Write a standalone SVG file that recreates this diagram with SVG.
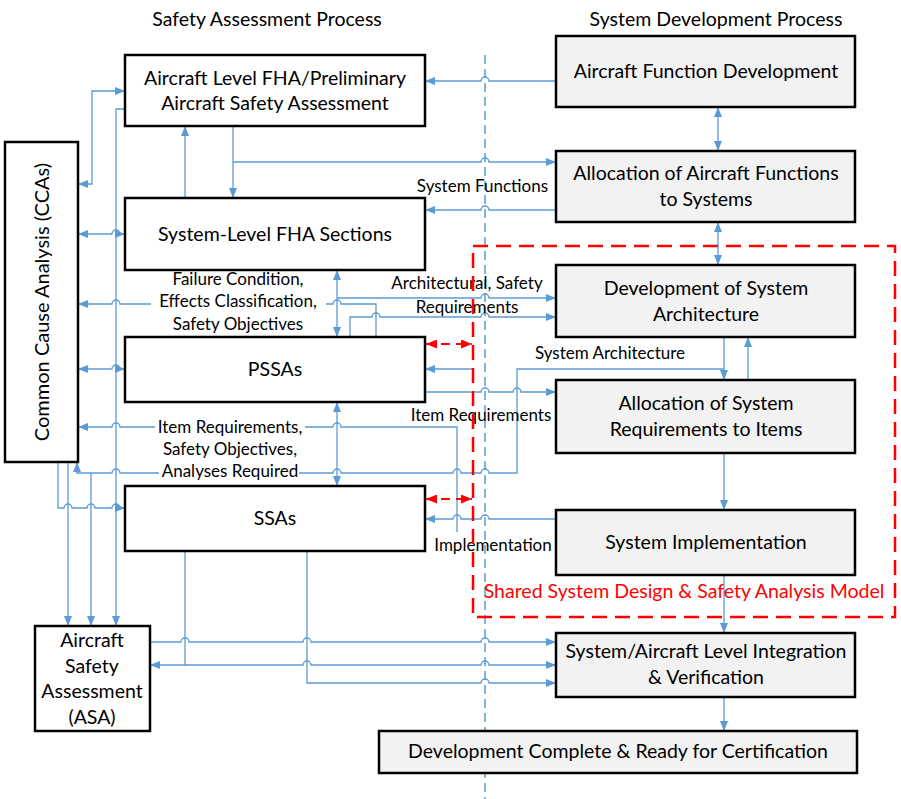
<svg xmlns="http://www.w3.org/2000/svg" width="901" height="799" viewBox="0 0 901 799">
<style>
.box{fill:#ffffff;stroke:#000000;stroke-width:2.5}
.gbox{fill:#f2f2f2;stroke:#000000;stroke-width:2.5}
.t{font-family:Lato,"Liberation Sans",sans-serif;font-size:19.5px;fill:#000;text-anchor:middle}
.lbl{font-family:Lato,"Liberation Sans",sans-serif;font-size:17px;fill:#000;text-anchor:middle}
.c{fill:none;stroke:#5b9bd5;stroke-width:1.3}
.bg{fill:#ffffff}
</style>
<defs>
<marker id="a" markerWidth="10" markerHeight="8" refX="10" refY="4" orient="auto-start-reverse" markerUnits="userSpaceOnUse">
<path d="M0,0 L10,4 L0,8 z" fill="#5b9bd5"/>
</marker>
<marker id="r" markerWidth="11" markerHeight="9" refX="11" refY="4.5" orient="auto-start-reverse" markerUnits="userSpaceOnUse">
<path d="M0,0 L11,4.5 L0,9 z" fill="#ff0000"/>
</marker>
</defs>
<rect width="901" height="799" fill="#ffffff"/>

<text class="t" x="267" y="26">Safety Assessment Process</text>
<text class="t" x="716" y="26">System Development Process</text>

<line x1="485" y1="55" x2="485" y2="799" stroke="#5b9bd5" stroke-width="1.5" stroke-dasharray="9 5"/>

<g id="connectors">
<path class="c" marker-end="url(#a)" d="M556,81 H489 A4,4 0 0 0 481,81 H425"/>
<path class="c" marker-start="url(#a)" marker-end="url(#a)" d="M718,107 V151"/>
<path class="c" marker-end="url(#a)" d="M233,126 V198"/>
<path class="c" marker-end="url(#a)" d="M233,162 H481 A4,4 0 0 1 489,162 H556"/>
<path class="c" marker-end="url(#a)" d="M185,198 V126"/>
<path class="c" marker-end="url(#a)" d="M556,210 H489 A4,4 0 0 0 481,210 H425"/>
<path class="c" marker-start="url(#a)" marker-end="url(#a)" d="M718,222 V265"/>
<path class="c" marker-start="url(#a)" marker-end="url(#a)" d="M125,91 H92 V184 H78"/>
<path class="c" marker-end="url(#a)" d="M125,109 H116 V626"/>
<path class="c" marker-start="url(#a)" marker-end="url(#a)" d="M78,234 H112 A4,4 0 0 1 120,234 H125"/>
<path class="c" marker-end="url(#a)" d="M376,337 V304 H341 A4,4 0 0 0 333,304 H120 A4,4 0 0 0 112,304 H78"/>
<path class="c" marker-start="url(#a)" marker-end="url(#a)" d="M337,270 V337"/>
<path class="c" marker-end="url(#a)" d="M337,298 H481 A4,4 0 0 1 489,298 H556"/>
<path class="c" marker-end="url(#a)" d="M350,337 V317 H372 A4,4 0 0 1 380,317 H481 A4,4 0 0 1 489,317 H556"/>
<path class="c" marker-start="url(#a)" marker-end="url(#a)" d="M78,369 H112 A4,4 0 0 1 120,369 H125"/>
<path class="c" marker-end="url(#a)" d="M724,369 H517 V473 H489 A4,4 0 0 0 481,473 H461 A4,4 0 0 0 453,473 H341 A4,4 0 0 0 333,473 H120 A4,4 0 0 0 112,473 H77 V462"/>
<path class="c" marker-end="url(#a)" d="M472,369 H425"/>
<path class="c" marker-end="url(#a)" d="M425,392 H481 A4,4 0 0 1 489,392 H513 A4,4 0 0 1 521,392 H556"/>
<path class="c" marker-start="url(#a)" marker-end="url(#a)" d="M337,402 V486"/>
<path class="c" marker-end="url(#a)" d="M457,532 V427 H341 A4,4 0 0 0 333,427 H120 A4,4 0 0 0 112,427 H78"/>
<path class="c" marker-end="url(#a)" d="M556,519 H489 A4,4 0 0 0 481,519 H461 A4,4 0 0 0 453,519 H425"/>
<path class="c" marker-end="url(#a)" d="M58,462 V508 H64 A4,4 0 0 1 72,508 H87 A4,4 0 0 1 95,508 H112 A4,4 0 0 1 120,508 H125"/>
<path class="c" marker-end="url(#a)" d="M68,462 V626"/>
<path class="c" marker-end="url(#a)" d="M91,473 V626"/>
<path class="c" marker-end="url(#a)" d="M185,551 V665 H150"/>
<path class="c" marker-end="url(#a)" d="M185,665 H303 A4,4 0 0 1 311,665 H481 A4,4 0 0 1 489,665 H556"/>
<path class="c" marker-end="url(#a)" d="M307,551 V683 H481 A4,4 0 0 1 489,683 H556"/>
<path class="c" marker-end="url(#a)" d="M150,642 H181 A4,4 0 0 1 189,642 H303 A4,4 0 0 1 311,642 H481 A4,4 0 0 1 489,642 H556"/>
<path class="c" marker-end="url(#a)" d="M724,337 V380"/>
<path class="c" marker-end="url(#a)" d="M748,380 V337"/>
<path class="c" marker-end="url(#a)" d="M724,453 V510"/>
<path class="c" marker-end="url(#a)" d="M724,575 V633"/>
<path class="c" marker-end="url(#a)" d="M724,697 V731"/>
<path fill="none" stroke="#ff0000" stroke-width="2" stroke-dasharray="9 6" marker-start="url(#r)" marker-end="url(#r)" d="M426,344 H472"/>
<path fill="none" stroke="#ff0000" stroke-width="2" stroke-dasharray="9 6" marker-start="url(#r)" marker-end="url(#r)" d="M426,499 H472"/>
</g>

<g id="labels">
<rect class="bg" x="166" y="270" width="132" height="19"/>
<rect class="bg" x="151" y="292" width="175" height="19"/>
<rect class="bg" x="163" y="315" width="134" height="19"/>
<text class="lbl" x="238" y="285">Failure Condition,</text>
<text class="lbl" x="238" y="307">Effects Classification,</text>
<text class="lbl" x="238" y="330">Safety Objectives</text>
<rect class="bg" x="155" y="418" width="150" height="19"/>
<rect class="bg" x="161" y="440" width="133" height="19"/>
<rect class="bg" x="159" y="462" width="140" height="19"/>
<text class="lbl" x="230" y="433">Item Requirements,</text>
<text class="lbl" x="230" y="455">Safety Objectives,</text>
<text class="lbl" x="230" y="477">Analyses Required</text>
<text class="lbl" x="548" y="192" style="text-anchor:end">System Functions</text>
<text class="lbl" x="467" y="289">Architectural, Safety</text>
<text class="lbl" x="467" y="313">Requirements</text>
<text class="lbl" x="610" y="359">System Architecture</text>
<text class="lbl" x="481" y="421">Item Requirements</text>
<text class="lbl" x="493" y="551">Implementation</text>
</g>

<g id="n-fha"><rect class="box" x="125" y="55" width="300" height="71"/>
<text class="t" x="275" y="85">Aircraft Level FHA/Preliminary</text>
<text class="t" x="275" y="110">Aircraft Safety Assessment</text></g>
<g id="n-cca"><rect class="box" x="5" y="142" width="73" height="320"/>
<text class="t" transform="translate(42,302) rotate(-90)" x="0" y="7" style="font-size:20px">Common Cause Analysis (CCAs)</text></g>
<g id="n-sysfha"><rect class="box" x="125" y="198" width="300" height="72"/>
<text class="t" x="275" y="241">System-Level FHA Sections</text></g>
<g id="n-pssa"><rect class="box" x="125" y="337" width="300" height="65"/>
<text class="t" x="275" y="376">PSSAs</text></g>
<g id="n-ssa"><rect class="box" x="125" y="486" width="300" height="65"/>
<text class="t" x="275" y="525">SSAs</text></g>
<g id="n-asa"><rect class="box" x="35" y="626" width="115" height="105"/>
<text class="t" x="92" y="647">Aircraft</text>
<text class="t" x="92" y="673">Safety</text>
<text class="t" x="92" y="698">Assessment</text>
<text class="t" x="92" y="724">(ASA)</text></g>

<g id="n-afd"><rect class="gbox" x="556" y="36" width="299" height="71"/>
<text class="t" x="706" y="78">Aircraft Function Development</text></g>
<g id="n-aaf"><rect class="gbox" x="556" y="151" width="299" height="71"/>
<text class="t" x="706" y="180">Allocation of Aircraft Functions</text>
<text class="t" x="706" y="206">to Systems</text></g>
<g id="n-dsa"><rect class="gbox" x="556" y="265" width="299" height="72"/>
<text class="t" x="706" y="295">Development of System</text>
<text class="t" x="706" y="321">Architecture</text></g>
<g id="n-asr"><rect class="gbox" x="556" y="380" width="299" height="73"/>
<text class="t" x="706" y="410">Allocation of System</text>
<text class="t" x="706" y="436">Requirements to Items</text></g>
<g id="n-si"><rect class="gbox" x="556" y="510" width="299" height="65"/>
<text class="t" x="706" y="549">System Implementation</text></g>
<g id="n-int"><rect class="gbox" x="556" y="633" width="299" height="64"/>
<text class="t" x="706" y="658">System/Aircraft Level Integration</text>
<text class="t" x="706" y="684">&amp; Verification</text></g>
<g id="n-dc"><rect class="gbox" x="379" y="731" width="478" height="42"/>
<text class="t" x="618" y="758">Development Complete &amp; Ready for Certification</text></g>

<g id="shared-model">
<rect x="473" y="246" width="422" height="371" fill="none" stroke="#ff0000" stroke-width="2.5" stroke-dasharray="15 8"/>
<text class="t" x="684" y="598" style="fill:#ff0000">Shared System Design &amp; Safety Analysis Model</text>
</g>
</svg>
